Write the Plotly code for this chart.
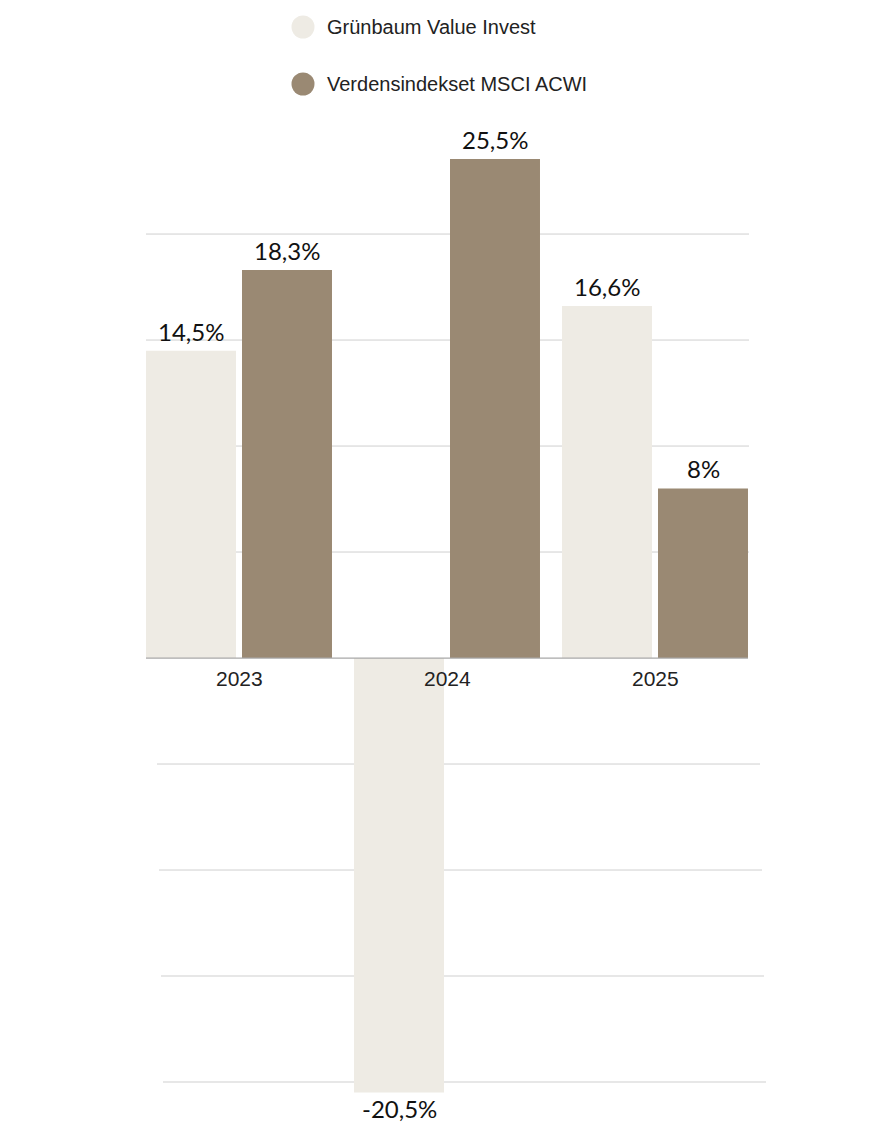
import plotly.graph_objects as go

# ---- data ----
years = ["2023", "2024", "2025"]
series_names = ["Grünbaum Value Invest", "Verdensindekset MSCI ACWI"]
gruenbaum = [14.5, -20.5, 16.6]
acwi = [18.3, 25.5, 8.0]
grid_values = [20, 15, 10, 5, -5, -10, -15, -20]

# ---- style ----
OFF = 8  # page body margin
W, H = 875 - OFF, 1125 - OFF
ML, MT = 135 - OFF, 159 - OFF
PW, PH = 624, 937
MR, MB = W - ML - PW, H - MT - PH
YMAX, YMIN = 23.54, -20.66
colors = ["#EEEBE4", "#9A8973"]
label_font = dict(family="Lato, Open Sans, sans-serif", size=24, color="#111111")
tick_font = dict(family="Liberation Sans, Arial, sans-serif", size=21, color="#222222")
legend_font = dict(family="Liberation Sans, Arial, sans-serif", size=20, color="#222222")


def px_x(p):
    return (p - OFF - ML) / PW


def px_y(p):
    return (H - MB - (p - OFF)) / PH


def fmt(v):
    s = ("%g" % v).replace(".", ",")
    return s + "%"


fig = go.Figure()
for name, vals, col in zip(series_names, [gruenbaum, acwi], colors):
    fig.add_trace(go.Bar(x=years, y=vals, name=name, marker=dict(color=col, line=dict(width=0)),
                         showlegend=False, hoverinfo="skip"))

shapes = []
# gridlines
for g in grid_values:
    off = 0 if g > 0 else 11 + 2 * (abs(g) / 5 - 1)
    shapes.append(dict(type="line", xref="paper", yref="y", x0=px_x(146 + off), x1=px_x(748 + off + 1),
                       y0=g, y1=g, line=dict(color="#CFCFCF", width=1), layer="below"))
# zero line
shapes.append(dict(type="line", xref="paper", yref="y", x0=px_x(146), x1=px_x(748), y0=0, y1=0,
                   line=dict(color="#A8A8A8", width=1.3), layer="above"))

# manual legend
leg_rows = [27, 84]
annotations = []
for name, col, cy in zip(series_names, colors, leg_rows):
    shapes.append(dict(type="circle", xref="paper", yref="paper",
                       x0=px_x(303 - 11.5), x1=px_x(303 + 11.5), y0=px_y(cy + 11.5), y1=px_y(cy - 11.5),
                       fillcolor=col, line=dict(width=0)))
    annotations.append(dict(xref="paper", yref="paper", x=px_x(325), y=px_y(cy), text=name,
                            showarrow=False, xanchor="left", yanchor="middle", font=legend_font))

# bar labels (category axis: annotation x given as category index)
for vals, shift in zip([gruenbaum, acwi], [-48, 48]):
    for i, v in enumerate(vals):
        yv = min(v, YMAX) if v >= 0 else max(v, YMIN)
        annotations.append(dict(x=i, y=yv, xref="x", yref="y", text=fmt(v), showarrow=False,
                                xshift=shift, yanchor="bottom" if v >= 0 else "top",
                                yshift=3 if v >= 0 else 1, font=label_font))

# category labels at the zero line
for i, yr in enumerate(years):
    annotations.append(dict(x=i, y=0, xref="x", yref="y", text=yr, showarrow=False,
                            yanchor="top", yshift=-7, font=tick_font))

fig.update_layout(
    width=W, height=H,
    margin=dict(l=ML, r=MR, t=MT, b=MB, pad=0),
    paper_bgcolor="white", plot_bgcolor="white",
    barmode="group", bargap=0.077, bargroupgap=0.0625,
    xaxis=dict(type="category", showticklabels=False, showgrid=False, zeroline=False, showline=False,
               range=[-0.5, 2.5], fixedrange=True),
    yaxis=dict(showticklabels=False, showgrid=False, zeroline=False, showline=False,
               range=[YMIN, YMAX], fixedrange=True),
    shapes=shapes,
    annotations=annotations,
    showlegend=False,
)

fig.write_html("out.html")
